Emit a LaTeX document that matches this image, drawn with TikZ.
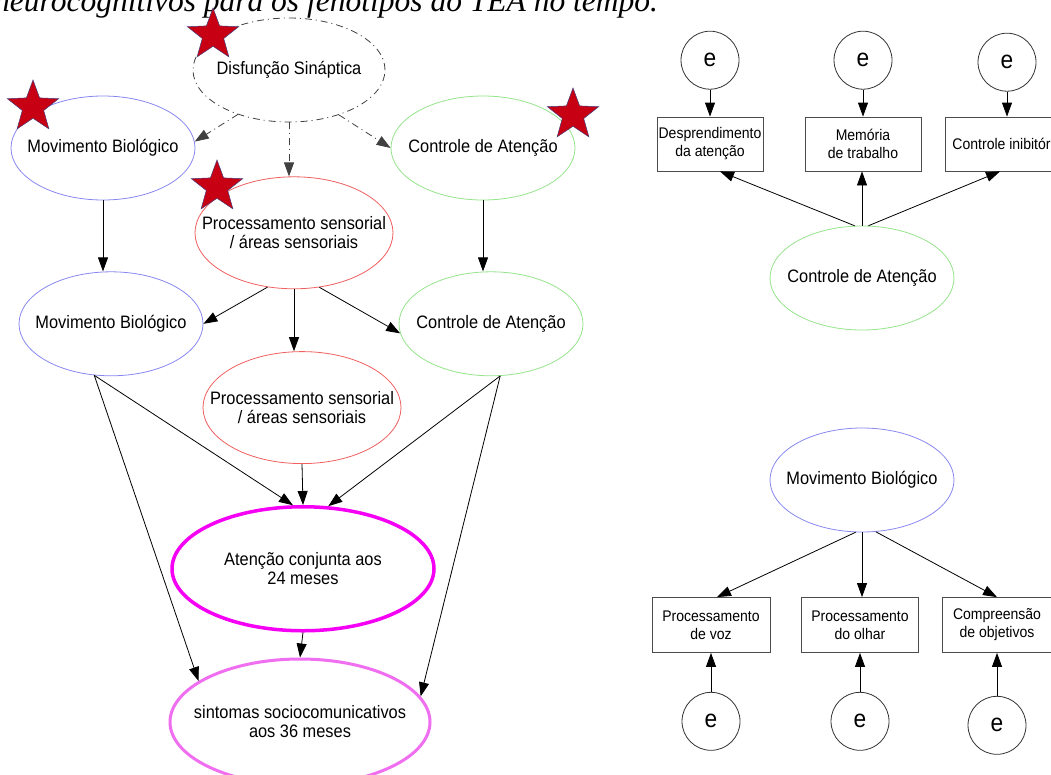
\documentclass[tikz,border=0pt]{standalone}
\usepackage{fontspec}
\newfontfamily\graphfont{Liberation Sans}[FakeStretch=0.91]
\newfontfamily\capfont{Liberation Serif}
\usetikzlibrary{shapes.geometric,arrows.meta,positioning}
\definecolor{mbblue}{RGB}{136,136,240}
\definecolor{cagreen}{RGB}{150,228,140}
\definecolor{psred}{RGB}{240,96,96}
\definecolor{acmag}{RGB}{245,0,245}
\definecolor{ssviolet}{RGB}{240,110,240}
\definecolor{starred}{RGB}{200,0,20}
\definecolor{starline}{RGB}{70,60,120}

\begin{document}
\begin{tikzpicture}[x=1pt,y=-1pt,
   font=\graphfont\fontsize{18}{19}\selectfont,
   elli/.style={ellipse,
          draw,
          line width=0.8pt,
          inner xsep=-30pt,
          inner ysep=0pt,
          minimum width=184pt,
          minimum height=104pt,
          align=center},
   bigelli/.style={elli,
          minimum width=198pt,
          minimum height=112pt},
   rbox/.style={rectangle,
          draw=black!70,
          line width=0.8pt,
          minimum height=54pt,
          inner sep=0pt,
          align=center,
          font=\graphfont\fontsize{15.4}{18}\selectfont},
   errnode/.style={circle,
          draw=black!80,
          line width=0.8pt,
          minimum size=58pt,
          inner sep=0pt,
          font=\graphfont\fontsize{25}{25}\selectfont},
   redstar/.style={star,
          star points=5,
          star point ratio=2.4,
          minimum size=54pt,
          inner sep=0pt,
          fill=starred,
          draw=starline,
          line width=0.5pt},
   arr/.style={-{Triangle[length=14pt,width=10pt]},
          line width=0.8pt},
   dasharr/.style={arr,
          draw=black!75,
          dash pattern=on 7pt off 4pt on 1pt off 4pt}]
   \useasboundingbox (0,0) rectangle (1051,774);
   \fill[white] (0,0) rectangle (1051,774);
   \clip (0,0) rectangle (1051,774);

   % caption line cut at the top
   \node[anchor=base west,
          inner sep=0pt,
          font=\capfont\itshape\fontsize{31.5}{31.5}\selectfont] (cap) at (-6,11)
          {neurocognitivos para os fenótipos do TEA no tempo.};

   % left graph
   \node[elli,
          draw=black!75,
          dash pattern=on 7pt off 4pt on 1pt off 4pt,
          minimum width=192pt] (ds) at (289,70) {Disfunção Sináptica};
   \node[elli,
          draw=mbblue] (mb1) at (103,148) {Movimento Biológico};
   \node[elli,
          draw=cagreen] (ca1) at (483,148) {Controle de Atenção};
   \node[bigelli,
          below=54pt of ds,
          xshift=5pt,
          draw=psred] (ps1) {Processamento sensorial\\ / áreas sensoriais};
   \node[elli,
          below=71pt of mb1,
          xshift=8pt,
          draw=mbblue] (mb2) {Movimento Biológico};
   \node[elli,
          below=71pt of ca1,
          xshift=8pt,
          draw=cagreen] (ca2) {Controle de Atenção};
   \node[bigelli,
          below=62pt of ps1,
          xshift=8pt,
          draw=psred] (ps2) {Processamento sensorial\\ / áreas sensoriais};
   \node[elli,
          below=41pt of ps2,
          xshift=1pt,
          minimum width=262pt,
          minimum height=124pt,
          line width=3.5pt,
          draw=acmag] (ac) {Atenção conjunta aos\\ 24 meses};
   \node[elli,
          below=25pt of ac,
          xshift=-3pt,
          minimum width=260pt,
          minimum height=126pt,
          line width=3pt,
          draw=ssviolet] (ss) {sintomas sociocomunicativos\\ aos 36 meses};

   % stars
   \node[redstar] (st1) at (213,35) {};
   \node[redstar] (st2) at (33,107) {};
   \node[redstar] (st3) at (217,187) {};
   \node[redstar] (st4) at (573,115) {};

   % right top
   \node[elli,
          draw=cagreen] (ca3) at (862,278) {Controle de Atenção};
   \node[rbox,
          minimum width=106pt] (da) at (710,144) {Desprendimento\\ da atenção};
   \node[rbox,
          minimum width=116pt] (mt) at (863,144) {Memória\\ de trabalho};
   \node[rbox,
          minimum width=123pt] (ci) at (1007,144) {Controle inibitório};
   \node[errnode,
          above=27pt of da] (e1) {e};
   \node[errnode,
          above=27pt of mt] (e2) {e};
   \node[errnode,
          above=25pt of ci] (e3) {e};

   % right bottom
   \node[elli,
          draw=mbblue] (mb3) at (862,480) {Movimento Biológico};
   \node[rbox,
          minimum width=118pt,
          minimum height=55pt] (pv) at (711,625) {Processamento\\ de voz};
   \node[rbox,
          minimum width=117pt,
          minimum height=55pt] (po) at (860,625) {Processamento\\ do olhar};
   \node[rbox,
          minimum width=110pt,
          minimum height=55pt] (co) at (997,625) {Compreensão\\ de objetivos};
   \node[errnode,
          below=39pt of pv] (e4) {e};
   \node[errnode,
          below=39pt of po] (e5) {e};
   \node[errnode,
          below=43pt of co] (e6) {e};

   % edges
   \draw[dasharr] (ds.221) -- (mb1.4);
   \draw[dasharr] (ds.south) -- (ds.south |- ps1.north);
   \draw[dasharr] (ds.318) -- (ca1.180);
   \draw[arr] (mb1.south) -- (mb1.south |- mb2.north);
   \draw[arr] (ca1.south) -- (ca1.south |- ca2.north);
   \draw[arr] (ps1.244) -- (mb2.east);
   \draw[arr] (ps1.south) -- (ps1.south |- ps2.north);
   \draw[arr] (ps1.295) -- (ca2.186);
   \draw[arr] (mb2.252) -- (ac.99);
   \draw[arr] (mb2.252) -- (ss.158);
   \draw[arr] (ps2.south) -- (ac.north);
   \draw[arr] (ca2.280) -- (ac.68);
   \draw[arr] (ca2.280) -- (ss.12);
   \draw[arr] (ac.south) -- (ss.north);

   \draw[arr] (e1) -- (da);
   \draw[arr] (e2) -- (mt);
   \draw[arr] (e3) -- (ci);
   \draw[arr] (ca3.98) -- ([xshift=10pt]da.south);
   \draw[arr] (ca3.north) -- (ca3.north |- mt.south);
   \draw[arr] (ca3.83) -- ([xshift=-7pt]ci.south);

   \draw[arr] (mb3.263) -- ([xshift=6pt]pv.north);
   \draw[arr] (mb3.south) -- (mb3.south |- po.north);
   \draw[arr] (mb3.285) -- (co.north);
   \draw[arr] (e4) -- (pv);
   \draw[arr] (e5) -- (po);
   \draw[arr] (e6) -- (co);
\end{tikzpicture}
\end{document}
